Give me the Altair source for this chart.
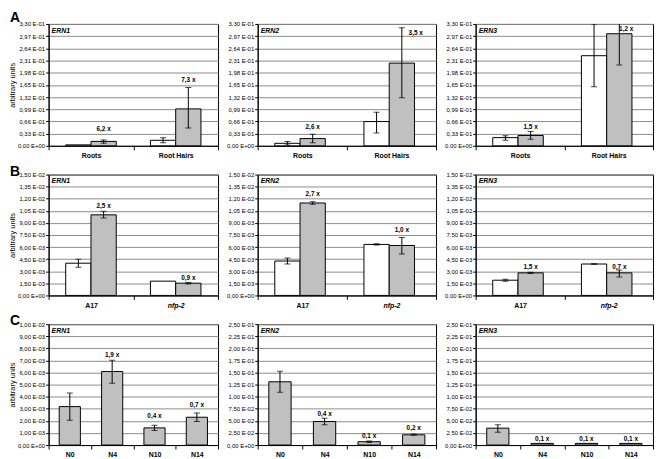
import altair as alt
import pandas as pd

FONT = "Liberation Sans"
BAR_GRAY = "#c0c0c0"
GRID_GRAY = "#8c8c8c"
SERIES = ["control", "treated"]

# ---------------- tick values and labels ----------------
A_TICKS = [0, 0.033, 0.066, 0.099, 0.132, 0.165, 0.198, 0.231, 0.264, 0.297, 0.33]
A_TICK_LABELS = ["0,00 E+00", "0,33 E-01", "0,66 E-01", "0,99 E-01", "1,32 E-01", "1,65 E-01",
                 "1,98 E-01", "2,31 E-01", "2,64 E-01", "2,97 E-01", "3,30 E-01"]
B_TICKS = [0, 0.0015, 0.003, 0.0045, 0.006, 0.0075, 0.009, 0.0105, 0.012, 0.0135, 0.015]
B_TICK_LABELS = ["0,00 E+00", "1,50 E-03", "3,00 E-03", "4,50 E-03", "6,00 E-03", "7,50 E-03",
                 "9,00 E-03", "1,05 E-02", "1,20 E-02", "1,35 E-02", "1,50 E-02"]
C1_TICKS = [0, 0.001, 0.002, 0.003, 0.004, 0.005, 0.006, 0.007, 0.008, 0.009, 0.01]
C1_TICK_LABELS = ["0,00 E+00", "1,00 E-03", "2,00 E-03", "3,00 E-03", "4,00 E-03", "5,00 E-03",
                  "6,00 E-03", "7,00 E-03", "8,00 E-03", "9,00 E-03", "1,00 E-02"]
C23_TICKS = [0, 0.025, 0.05, 0.075, 0.1, 0.125, 0.15, 0.175, 0.2, 0.225, 0.25]
C23_TICK_LABELS = ["0,00 E+00", "2,50 E-02", "5,00 E-02", "7,50 E-02", "1,00 E-01", "1,25 E-01",
                   "1,50 E-01", "1,75 E-01", "2,00 E-01", "2,25 E-01", "2,50 E-01"]

# ---------------- row A : Roots / Root Hairs ----------------
A_CATS = ["Roots", "Root Hairs"]
A1_CTRL = [0.0026, 0.015]
A1_CTRL_LO = [None, 0.008]
A1_CTRL_HI = [None, 0.022]
A1_TRT = [0.012, 0.100]
A1_TRT_LO = [0.007, 0.048]
A1_TRT_HI = [0.016, 0.158]
A1_LABELS = ["6,2 x", "7,3 x"]
A1_LABEL_Y = [0.046, 0.177]

A2_CTRL = [0.0068, 0.0657]
A2_CTRL_LO = [0.002, 0.035]
A2_CTRL_HI = [0.012, 0.091]
A2_TRT = [0.0196, 0.224]
A2_TRT_LO = [0.0085, 0.13]
A2_TRT_HI = [0.0316, 0.32]
A2_LABELS = ["2,6 x", "3,5 x"]
A2_LABEL_Y = [0.051, 0.306]

A3_CTRL = [0.0222, 0.244]
A3_CTRL_LO = [0.0154, 0.16]
A3_CTRL_HI = [0.0273, 0.33]
A3_TRT = [0.028, 0.3036]
A3_TRT_LO = [0.018, 0.219]
A3_TRT_HI = [0.039, 0.385]
A3_LABELS = ["1,5 x", "1,2 x"]
A3_LABEL_Y = [0.051, 0.317]

# ---------------- row B : A17 / nfp-2 ----------------
B_CATS = ["A17", "nfp-2"]
B1_CTRL = [0.0040, 0.00177]
B1_CTRL_LO = [0.0035, None]
B1_CTRL_HI = [0.00448, None]
B1_TRT = [0.0100, 0.00152]
B1_TRT_LO = [0.00962, 0.00143]
B1_TRT_HI = [0.01044, 0.00160]
B1_LABELS = ["2,5 x", "0,9 x"]
B1_LABEL_Y = [0.01114, 0.00222]

B2_CTRL = [0.00427, 0.00633]
B2_CTRL_LO = [0.0039, 0.00625]
B2_CTRL_HI = [0.00464, 0.0064]
B2_TRT = [0.01147, 0.0062]
B2_TRT_LO = [0.0113, 0.00514]
B2_TRT_HI = [0.01163, 0.00719]
B2_LABELS = ["2,7 x", "1,0 x"]
B2_LABEL_Y = [0.01262, 0.0081]

B3_CTRL = [0.00189, 0.0039]
B3_CTRL_LO = [0.00177, 0.00386]
B3_CTRL_HI = [0.00201, 0.00394]
B3_TRT = [0.0028, 0.0028]
B3_TRT_LO = [0.00272, 0.0023]
B3_TRT_HI = [0.00288, 0.00317]
B3_LABELS = ["1,5 x", "0,7 x"]
B3_LABEL_Y = [0.00358, 0.0035]

# ---------------- row C : N0 / N4 / N10 / N14 ----------------
C_CATS = ["N0", "N4", "N10", "N14"]
C1_VAL = [0.00318, 0.00608, 0.00142, 0.0023]
C1_LO = [0.00205, 0.00512, 0.0012, 0.00195]
C1_HI = [0.0043, 0.00701, 0.00164, 0.00266]
C1_LABELS = ["", "1,9 x", "0,4 x", "0,7 x"]
C1_LABEL_Y = [None, 0.00742, 0.00238, 0.00334]

C2_VAL = [0.1308, 0.0486, 0.00685, 0.0212]
C2_LO = [0.109, 0.0418, 0.0055, 0.0200]
C2_HI = [0.1527, 0.0555, 0.0082, 0.0226]
C2_LABELS = ["", "0,4 x", "0,1 x", "0,2 x"]
C2_LABEL_Y = [None, 0.0637, 0.0185, 0.035]

C3_VAL = [0.0349, 0.0034, 0.0034, 0.0034]
C3_LO = [0.0267, None, None, None]
C3_HI = [0.0418, None, None, None]
C3_LABELS = ["", "0,1 x", "0,1 x", "0,1 x"]
C3_LABEL_Y = [None, 0.0116, 0.0116, 0.0116]


def label_expr(values, labels):
    expr = f"'{labels[-1]}'"
    for i in range(len(values) - 2, -1, -1):
        mid = (values[i] + values[i + 1]) / 2
        expr = f"datum.value < {mid} ? '{labels[i]}' : ({expr})"
    return expr


def make_panel(gene, cats, series_data, labels, label_y, ticks, tick_labels, ymax,
               width, height, first_col=False, letter=None, letter_y=0, shifts=None):
    grouped = len(series_data) == 2
    frames = []
    for name, (vals, lo, hi) in series_data:
        frames.append(pd.DataFrame({"cat": cats, "series": [name] * len(cats),
                                    "value": vals, "lo": lo, "hi": hi}))
    df = pd.concat(frames, ignore_index=True)
    err_df = df.dropna(subset=["lo"])

    if shifts is None:
        shifts = [0] * len(labels)
    lab_df = pd.DataFrame({"cat": cats, "series": ["treated"] * len(cats),
                           "label": labels, "label_y": label_y, "shift": shifts})
    lab_df = lab_df[lab_df["label"] != ""]

    xaxis = alt.Axis(title=None, tickBand="extent", grid=False, labelAngle=0,
                     labelFontStyle={"condition": {"test": "datum.value === 'nfp-2'", "value": "italic"},
                                     "value": "normal"})
    x_enc = alt.X("cat:N", sort=cats,
                  scale=alt.Scale(domain=cats, paddingInner=0, paddingOuter=0), axis=xaxis)
    yscale = alt.Scale(domain=[0, ymax], nice=False, zero=True)
    if first_col:
        yaxis = alt.Axis(values=ticks, labelExpr=label_expr(ticks, tick_labels),
                         title="arbitrary units", grid=True, minExtent=30, maxExtent=30)
    else:
        yaxis = alt.Axis(values=ticks, labelExpr=label_expr(ticks, tick_labels),
                         title=None, grid=True, minExtent=30, maxExtent=30)

    enc_extra = {}
    if grouped:
        bw = width / len(cats)
        p = (bw / 25.5 - 2) / 2
        enc_extra["xOffset"] = alt.XOffset("series:N", sort=SERIES,
                                           scale=alt.Scale(domain=SERIES, paddingInner=0, paddingOuter=p))
        bar_mark = alt.Chart(df).mark_bar(stroke="black", strokeWidth=1)
    else:
        bar_mark = alt.Chart(df).mark_bar(stroke="black", strokeWidth=1,
                                          width=alt.RelativeBandSize(0.5))

    bars = bar_mark.encode(
        x=x_enc,
        y=alt.Y("value:Q", scale=yscale, axis=yaxis),
        color=alt.Color("series:N", scale=alt.Scale(domain=SERIES, range=["white", BAR_GRAY]), legend=None),
        **enc_extra,
    )
    rules = alt.Chart(err_df).mark_rule(color="black", strokeWidth=1, clip=True).encode(
        x=x_enc, y=alt.Y("lo:Q", scale=yscale, axis=yaxis), y2="hi:Q", **enc_extra)
    cap_lo = alt.Chart(err_df).mark_tick(color="black", orient="horizontal", size=6, thickness=1,
                                         clip=True).encode(
        x=x_enc, y=alt.Y("lo:Q", scale=yscale, axis=yaxis), **enc_extra)
    cap_hi = alt.Chart(err_df).mark_tick(color="black", orient="horizontal", size=6, thickness=1,
                                         clip=True).encode(
        x=x_enc, y=alt.Y("hi:Q", scale=yscale, axis=yaxis), **enc_extra)

    layers = [bars, rules, cap_lo, cap_hi]
    for s in sorted(set(lab_df["shift"])):
        sub = lab_df[lab_df["shift"] == s]
        layers.append(alt.Chart(sub).mark_text(font=FONT, fontSize=6.5, fontWeight="bold",
                                               color="black", baseline="middle", dx=s).encode(
            x=x_enc, y=alt.Y("label_y:Q", scale=yscale, axis=yaxis), text="label:N", **enc_extra))

    layers.append(alt.Chart(pd.DataFrame({"t": [gene]})).mark_text(
        font=FONT, fontSize=7, fontWeight="bold", fontStyle="italic", align="left",
        baseline="middle", color="black").encode(x=alt.value(3), y=alt.value(7), text="t:N"))
    if letter:
        layers.append(alt.Chart(pd.DataFrame({"t": [letter]})).mark_text(
            font=FONT, fontSize=14, fontWeight="bold", align="left", baseline="alphabetic",
            color="black").encode(x=alt.value(-39), y=alt.value(letter_y), text="t:N"))

    return alt.layer(*layers).properties(width=width, height=height)


W = [171, 180, 179]
HA, HB, HC = 123, 122, 122

panels = [
    make_panel("ERN1", A_CATS, [("control", (A1_CTRL, A1_CTRL_LO, A1_CTRL_HI)),
                                ("treated", (A1_TRT, A1_TRT_LO, A1_TRT_HI))],
               A1_LABELS, A1_LABEL_Y, A_TICKS, A_TICK_LABELS, 0.33, W[0], HA,
               first_col=True, letter="A", letter_y=-2),
    make_panel("ERN2", A_CATS, [("control", (A2_CTRL, A2_CTRL_LO, A2_CTRL_HI)),
                                ("treated", (A2_TRT, A2_TRT_LO, A2_TRT_HI))],
               A2_LABELS, A2_LABEL_Y, A_TICKS, A_TICK_LABELS, 0.33, W[1], HA, shifts=[0, 14]),
    make_panel("ERN3", A_CATS, [("control", (A3_CTRL, A3_CTRL_LO, A3_CTRL_HI)),
                                ("treated", (A3_TRT, A3_TRT_LO, A3_TRT_HI))],
               A3_LABELS, A3_LABEL_Y, A_TICKS, A_TICK_LABELS, 0.33, W[2], HA, shifts=[0, 7]),
    make_panel("ERN1", B_CATS, [("control", (B1_CTRL, B1_CTRL_LO, B1_CTRL_HI)),
                                ("treated", (B1_TRT, B1_TRT_LO, B1_TRT_HI))],
               B1_LABELS, B1_LABEL_Y, B_TICKS, B_TICK_LABELS, 0.015, W[0], HB,
               first_col=True, letter="B", letter_y=1),
    make_panel("ERN2", B_CATS, [("control", (B2_CTRL, B2_CTRL_LO, B2_CTRL_HI)),
                                ("treated", (B2_TRT, B2_TRT_LO, B2_TRT_HI))],
               B2_LABELS, B2_LABEL_Y, B_TICKS, B_TICK_LABELS, 0.015, W[1], HB),
    make_panel("ERN3", B_CATS, [("control", (B3_CTRL, B3_CTRL_LO, B3_CTRL_HI)),
                                ("treated", (B3_TRT, B3_TRT_LO, B3_TRT_HI))],
               B3_LABELS, B3_LABEL_Y, B_TICKS, B_TICK_LABELS, 0.015, W[2], HB),
    make_panel("ERN1", C_CATS, [("treated", (C1_VAL, C1_LO, C1_HI))],
               C1_LABELS, C1_LABEL_Y, C1_TICKS, C1_TICK_LABELS, 0.01, W[0], HC,
               first_col=True, letter="C", letter_y=1),
    make_panel("ERN2", C_CATS, [("treated", (C2_VAL, C2_LO, C2_HI))],
               C2_LABELS, C2_LABEL_Y, C23_TICKS, C23_TICK_LABELS, 0.25, W[1], HC),
    make_panel("ERN3", C_CATS, [("treated", (C3_VAL, C3_LO, C3_HI))],
               C3_LABELS, C3_LABEL_Y, C23_TICKS, C23_TICK_LABELS, 0.25, W[2], HC),
]

chart = alt.concat(*panels, columns=3, spacing={"row": 29, "column": 40}, bounds="flush").properties(
    padding=0, background="white"
).configure_view(
    stroke="black", strokeWidth=1
).configure_axis(
    labelFont=FONT, titleFont=FONT, labelColor="black", titleColor="black",
    domainColor="black", tickColor="black", domainWidth=1, tickWidth=1
).configure_axisY(
    labelFontSize=6, tickSize=3, labelPadding=1, gridColor=GRID_GRAY, gridWidth=1,
    titleFontSize=7.5, titleFontWeight="normal", titlePadding=2
).configure_axisX(
    labelFontSize=7, labelFontWeight="bold", tickSize=4, labelPadding=2
)

chart.save("out.html", embed_options={"renderer": "svg", "actions": False})
